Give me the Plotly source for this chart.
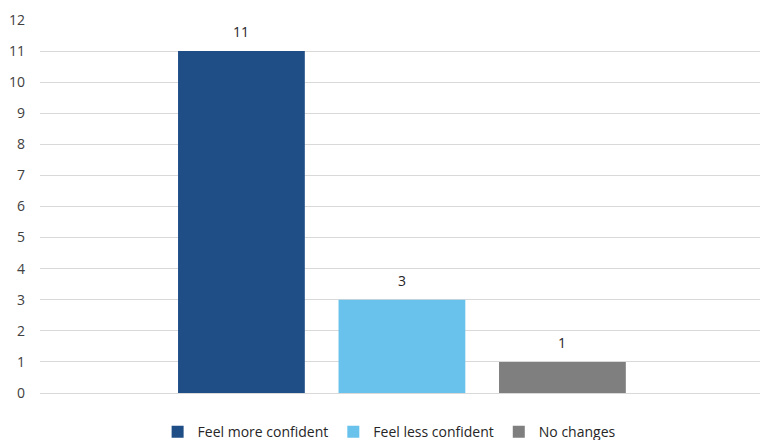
import plotly.graph_objects as go

series = ["Feel more confident", "Feel less confident", "No changes"]
values = [11, 3, 1]
colors = ["#1F4E87", "#69C2EC", "#7F7F7F"]
positions = list(range(len(series)))

fig = go.Figure()
for pos, name, val, col in zip(positions, series, values, colors):
    fig.add_trace(go.Bar(
        x=[pos], y=[val], name=name, marker_color=col,
        marker_line_width=0, width=0.79,
    ))
    fig.add_annotation(x=pos, y=val, text=str(val), showarrow=False,
                       yanchor="bottom", yshift=8,
                       font=dict(size=14, color="#262626"))

fig.update_layout(
    width=760, height=440,
    margin=dict(l=40, r=0, t=20, b=47, autoexpand=False),
    paper_bgcolor="white", plot_bgcolor="white",
    barmode="overlay",
    font=dict(family="Open Sans, Liberation Sans, sans-serif", size=14, color="#404040"),
    showlegend=True,
    legend=dict(orientation="h", x=0.512, xanchor="center", xref="container",
                y=-0.105, yanchor="middle", yref="paper",
                font=dict(size=14, color="#262626"), itemwidth=30,
                traceorder="normal"),
    xaxis=dict(range=[-1.255, 3.231], showticklabels=False, showgrid=False,
               zeroline=False, showline=False),
    yaxis=dict(range=[0, 12], dtick=1, showgrid=True, gridcolor="#D9D9D9",
               gridwidth=1, zeroline=True, zerolinecolor="#D9D9D9",
               zerolinewidth=1, showline=False, ticks="", ticklabelstandoff=14,
               tickfont=dict(size=14, color="#404040")),
)

fig.write_html("out.html")
